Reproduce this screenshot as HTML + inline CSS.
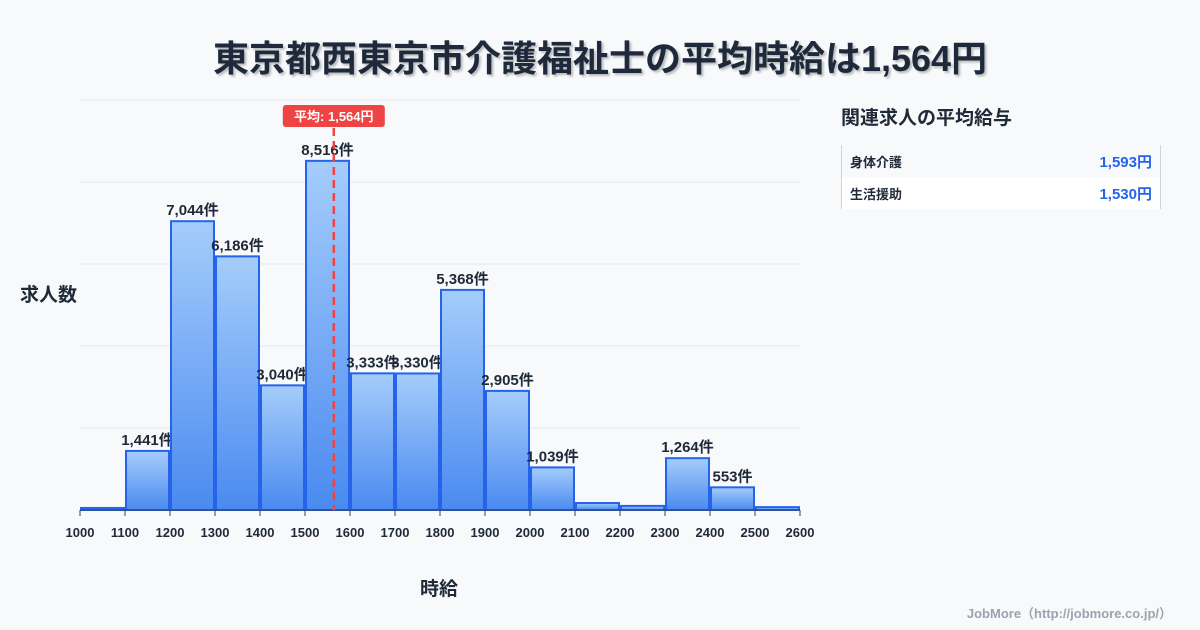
<!DOCTYPE html>
<html><head><meta charset="utf-8"><style>
body{margin:0;width:1200px;height:630px;background:#f8f9fb;font-family:"Liberation Sans","Noto Sans CJK JP",sans-serif;overflow:hidden;position:relative;color:#1f2937}
.t{position:absolute;font-weight:bold}
</style></head><body>
<div class="t" style="left:0;width:1200px;top:30px;text-align:center;font-size:36px;color:#1e293b;text-shadow:2px 2px 2px rgba(0,0,0,0.25)">東京都西東京市介護福祉士の平均時給は1,564円</div>
<div class="t" style="left:20px;top:280px;font-size:19px">求人数</div>
<div class="t" style="left:420px;top:574px;font-size:19px">時給</div>
<div class="t" style="left:841px;top:103px;font-size:19px">関連求人の平均給与</div>
<div style="position:absolute;left:841px;top:145px;width:318px;height:64px;border-left:1px solid #cbd5e1;border-right:1px solid #cbd5e1">
 <div style="height:32px;background:#f8f9fb;display:flex;justify-content:space-between;align-items:center;padding:0 8px;font-size:13px;font-weight:bold"><span>身体介護</span><span style="color:#2563eb;font-size:15px">1,593円</span></div>
 <div style="height:32px;background:#fff;display:flex;justify-content:space-between;align-items:center;padding:0 8px;font-size:13px;font-weight:bold"><span>生活援助</span><span style="color:#2563eb;font-size:15px">1,530円</span></div>
</div>
<div class="t" style="right:28px;top:603px;font-size:13px;color:#9ca3af">JobMore（http://jobmore.co.jp/）</div>
<svg id="c" width="1200" height="630" style="position:absolute;left:0;top:0">
<defs><linearGradient id="g" x1="0" y1="0" x2="0" y2="1"><stop offset="0" stop-color="#a5cdfb"/><stop offset="1" stop-color="#4a8af0"/></linearGradient></defs>
</svg>
<script>
const bins=[1000,1100,1200,1300,1400,1500,1600,1700,1800,1900,2000,2100,2200,2300,2400,2500];
const counts=[50,1441,7044,6186,3040,8516,3333,3330,5368,2905,1039,170,100,1264,553,70];
const xTicks=[1000,1100,1200,1300,1400,1500,1600,1700,1800,1900,2000,2100,2200,2300,2400,2500,2600];
const yTicks=[0,2000,4000,6000,8000,10000];
const avg=1564;
const ns="http://www.w3.org/2000/svg",svg=document.getElementById('c');
const X=v=>80+(v-1000)*0.45, Y=v=>510-v*0.041;
function mk(t,a,p){const e=document.createElementNS(ns,t);for(const k in a)e.setAttribute(k,a[k]);(p||svg).appendChild(e);return e;}
yTicks.forEach(v=>{const l=mk('line',{x1:80,x2:800,y1:Y(v),y2:Y(v),stroke:'#e5e7eb'});

});
bins.forEach((b,i)=>{const c=counts[i];const r=mk('rect',{x:X(b)+1,y:Y(c),width:43,height:510-Y(c),fill:'url(#g)',stroke:'#2563eb','stroke-width':2});


if(c>500){const t=mk('text',{x:X(b)+22.5,y:Y(c)-6,'text-anchor':'middle','font-size':15,'font-weight':'bold',fill:'#1f2937'});t.textContent=c.toLocaleString('en-US')+'件';

}});
mk('line',{x1:80,x2:800,y1:510,y2:510,stroke:'#374151'});
xTicks.forEach(v=>{const l=mk('line',{x1:X(v),x2:X(v),y1:510,y2:516,stroke:'#374151'});


const t=mk('text',{x:X(v),y:537,'text-anchor':'middle','font-size':13,'font-weight':'bold',fill:'#1f2937'});t.textContent=v;

});
const al=mk('line',{x1:X(avg),x2:X(avg),y1:128,y2:510,stroke:'#ef4444','stroke-width':2.5,'stroke-dasharray':'8,5'});


const ab=mk('rect',{x:X(avg)-51,y:105,width:102,height:22,rx:3,fill:'#ef4444'});


const at=mk('text',{x:X(avg),y:121,'text-anchor':'middle','font-size':13,'font-weight':'bold',fill:'#fff'});at.textContent='平均: 1,564円';


</script>
</body></html>
